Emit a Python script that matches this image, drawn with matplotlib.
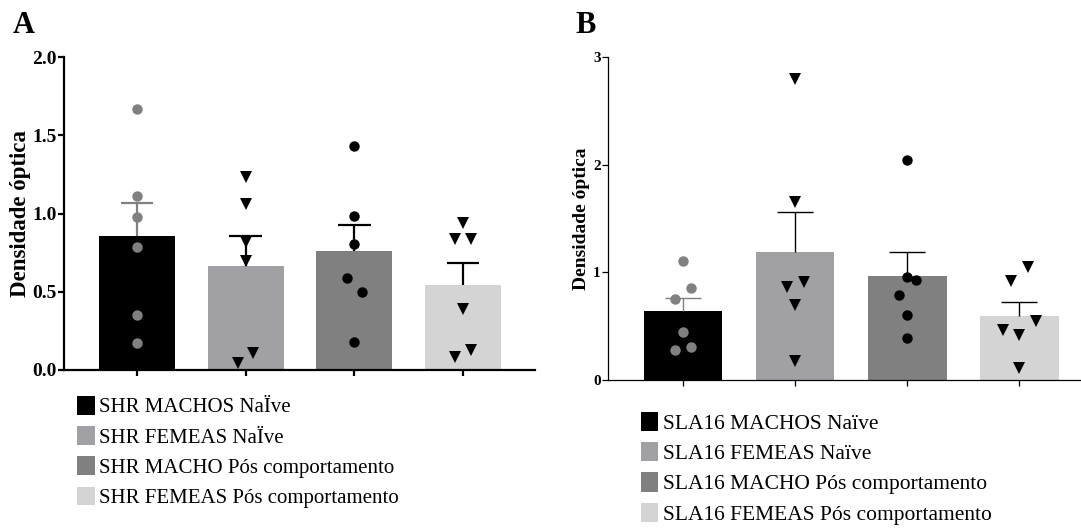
import matplotlib
matplotlib.use("Agg")
import matplotlib.pyplot as plt
import numpy as np

plt.rcParams['font.family'] = ['Liberation Serif', 'DejaVu Serif']

# ---------------- data ----------------
labels_A = ["SHR MACHOS NaÏve", "SHR FEMEAS NaÏve",
            "SHR MACHO Pós comportamento", "SHR FEMEAS Pós comportamento"]
means_A = [0.855, 0.664, 0.760, 0.543]
sem_A = [0.211, 0.191, 0.165, 0.142]
pts_A = [[1.666, 1.110, 0.979, 0.787, 0.351, 0.174],
         [1.234, 1.060, 0.820, 0.696, 0.043, 0.106],
         [1.432, 0.983, 0.802, 0.585, 0.500, 0.181],
         [0.940, 0.840, 0.840, 0.387, 0.085, 0.128]]
jit_A = [[0, 0, 0, 0, 0, 0],
         [0, 0, 0, 0, -0.07, 0.07],
         [0, 0, 0, -0.07, 0.07, 0],
         [0, -0.07, 0.07, 0, -0.07, 0.07]]
yticks_A = [0.0, 0.5, 1.0, 1.5, 2.0]
yticklabels_A = ["0.0", "0.5", "1.0", "1.5", "2.0"]

labels_B = ["SLA16 MACHOS Naïve", "SLA16 FEMEAS Naïve",
            "SLA16 MACHO Pós comportamento", "SLA16 FEMEAS Pós comportamento"]
means_B = [0.638, 1.193, 0.970, 0.598]
sem_B = [0.121, 0.363, 0.217, 0.124]
pts_B = [[1.103, 0.852, 0.753, 0.443, 0.304, 0.282],
         [2.798, 1.649, 0.914, 0.868, 0.700, 0.180],
         [2.045, 0.954, 0.930, 0.787, 0.604, 0.390],
         [1.047, 0.923, 0.552, 0.465, 0.418, 0.112]]
jit_B = [[0, 0.07, -0.075, 0, 0.07, -0.075],
         [0, 0, 0.075, -0.075, 0, 0],
         [0, 0, 0.075, -0.07, 0, 0],
         [0.075, -0.075, 0.15, -0.15, 0, 0]]
yticks_B = [0, 1, 2, 3]
yticklabels_B = ["0", "1", "2", "3"]

ylabel = "Densidade óptica"

# ---------------- styles ----------------
bar_colors = ["#000000", "#A1A1A5", "#808080", "#D4D4D4"]
pt_colors = ["#808080", "#000000", "#000000", "#000000"]
pt_markers = ["o", "v", "o", "v"]
err_colors = ["#808080", "#000000", "#000000", "#000000"]

W, H = 1081, 529
fig = plt.figure(figsize=(W / 100, H / 100), dpi=100)


def px_axes(l, r, t, b):
    return fig.add_axes([l / W, 1 - b / H, (r - l) / W, (b - t) / H])


def panel(ax, means, sem, pts, jit, labels, yticks, yticklabels, ylim, xlim,
          lw, tick_fs, lab_fs, cap_half, err_lw, ms_o, ms_v, labelpad):
    x = np.arange(len(means))
    bars = ax.bar(x, means, width=0.70, color=bar_colors, zorder=2)
    for b, lab in zip(bars, labels):
        b.set_label(lab)
    for i in range(len(means)):
        top = means[i] + sem[i]
        ax.vlines(x[i], means[i], top, color=err_colors[i], lw=err_lw, zorder=3)
        ax.hlines(top, x[i] - cap_half, x[i] + cap_half, color=err_colors[i],
                  lw=err_lw, zorder=3)
        xs = x[i] + np.array(jit[i])
        ms = ms_o if pt_markers[i] == "o" else ms_v
        ax.plot(xs, pts[i], linestyle="none", marker=pt_markers[i],
                color=pt_colors[i], markersize=ms, markeredgewidth=0, zorder=4)
    ax.set_xlim(*xlim)
    ax.set_ylim(*ylim)
    ax.set_yticks(yticks)
    ax.set_yticklabels(yticklabels, fontsize=tick_fs, fontweight="bold")
    ax.set_xticks(x)
    ax.set_xticklabels([])
    for s in ["top", "right"]:
        ax.spines[s].set_visible(False)
    for s in ["left", "bottom"]:
        ax.spines[s].set_linewidth(lw)
    ax.tick_params(axis="both", direction="out", length=4, width=lw, pad=1)
    ax.set_ylabel(ylabel, fontsize=lab_fs, fontweight="bold", labelpad=labelpad)
    return bars


axA = px_axes(64, 535, 57, 370)
barsA = panel(axA, means_A, sem_A, pts_A, jit_A, labels_A, yticks_A, yticklabels_A,
              (0, 2.0), (-0.672, 3.662), 1.6, 14, 16.5, 0.15, 1.6, 7.5, 8.5, 1)

axB = px_axes(607.5, 1081, 57, 380)
barsB = panel(axB, means_B, sem_B, pts_B, jit_B, labels_B, yticks_B, yticklabels_B,
              (0, 3), (-0.675, 3.55), 0.9, 11, 14, 0.16, 1.0, 7.5, 8.5, 2)

legA = axA.legend(handles=list(barsA), loc="upper left",
                  bbox_to_anchor=(77 / W, 1 - 396 / H), bbox_transform=fig.transFigure,
                  frameon=False, fontsize=15, handlelength=0.85, handleheight=1.0,
                  handletextpad=0.2, labelspacing=0.42, borderpad=0, borderaxespad=0)
legB = axB.legend(handles=list(barsB), loc="upper left",
                  bbox_to_anchor=(641 / W, 1 - 412 / H), bbox_transform=fig.transFigure,
                  frameon=False, fontsize=15.5, handlelength=0.8, handleheight=1.0,
                  handletextpad=0.2, labelspacing=0.38, borderpad=0, borderaxespad=0)

fig.text(13 / W, 1 - 33 / H, "A", fontsize=22, fontweight="bold", va="baseline")
fig.text(575 / W, 1 - 33 / H, "B", fontsize=22, fontweight="bold", va="baseline")

fig.savefig("out.png", dpi=100)
